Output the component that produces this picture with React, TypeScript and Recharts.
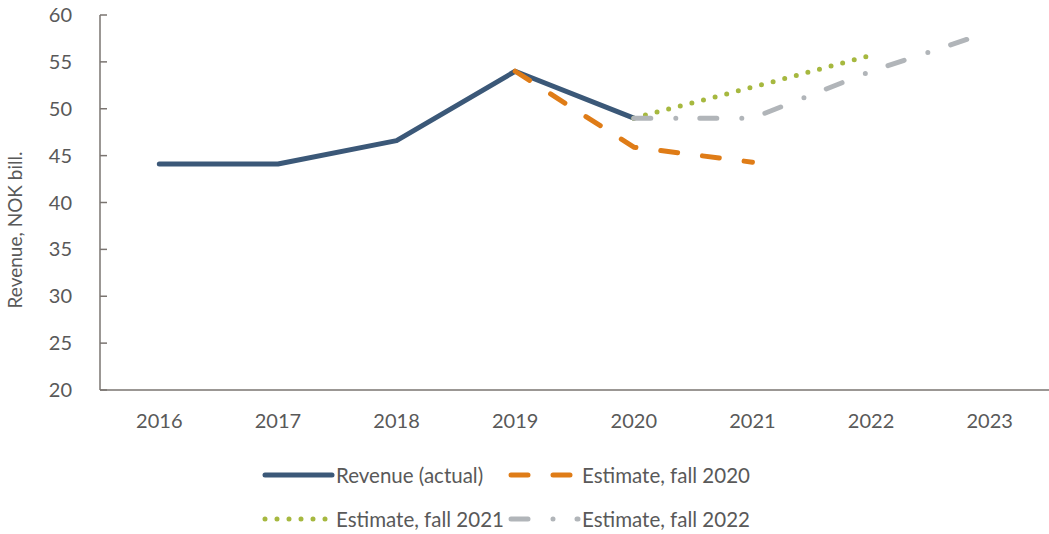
import { Legend, Line, LineChart, XAxis, YAxis } from "recharts";

const years = ["2016", "2017", "2018", "2019", "2020", "2021", "2022", "2023"];
const revenueActual = [44.1, 44.1, 46.6, 54, 49, null, null, null];
const estimateFall2020 = [null, null, null, 54, 45.9, 44.3, null, null];
const estimateFall2021 = [null, null, null, null, 49, 52.3, 55.7, null];
const estimateFall2022 = [null, null, null, null, 49, 49, 54, 58.2];
const yTicks = [20, 25, 30, 35, 40, 45, 50, 55, 60];

const data = years.map((year, i) => ({
  year,
  actual: revenueActual[i],
  fall2020: estimateFall2020[i],
  fall2021: estimateFall2021[i],
  fall2022: estimateFall2022[i],
}));

const series = [
  { key: "actual", name: "Revenue (actual)", color: "#3b5878", dash: undefined },
  { key: "fall2020", name: "Estimate, fall 2020", color: "#df7c17", dash: "17 25" },
  { key: "fall2021", name: "Estimate, fall 2021", color: "#a6b83f", dash: "0 12" },
  { key: "fall2022", name: "Estimate, fall 2022", color: "#b1b5b9", dash: "17 25 0 24" },
];

const font = "Lato, 'Open Sans', sans-serif";
const textColor = "#595959";
const axisColor = "#7a7470";

const CHART_W = 1049;
const CHART_H = 534;
const TOP = 15;
const LEGEND_H = 90;
const XAXIS_H = 54;

function YLabel() {
  const x = 14;
  const y = 230;
  return (
    <text
      x={x}
      y={y}
      transform={`rotate(-90 ${x} ${y})`}
      textAnchor="middle"
      dominantBaseline="central"
      fill={textColor}
      fontSize={19}
      fontFamily={font}
    >
      Revenue, NOK bill.
    </text>
  );
}

function LegendContent() {
  const rows = [
    [series[0], series[1]],
    [series[2], series[3]],
  ];
  return (
    <div style={{ height: LEGEND_H, paddingLeft: 262, paddingTop: 9, boxSizing: "border-box", fontFamily: font, fontSize: 20.5, color: textColor }}>
      {rows.map((row, r) => (
        <div key={r} style={{ display: "flex", height: 44, alignItems: "center" }}>
          {row.map((s) => (
            <div key={s.key} style={{ width: 246, display: "flex", alignItems: "center" }}>
              <svg width={74} height={10} style={{ display: "block" }}>
                <line
                  x1={3}
                  y1={5}
                  x2={70}
                  y2={5}
                  stroke={s.color}
                  strokeWidth={5}
                  strokeLinecap="round"
                  strokeDasharray={s.dash}
                />
              </svg>
              <span>{s.name}</span>
            </div>
          ))}
        </div>
      ))}
    </div>
  );
}

export default function App() {
  return (
    <div style={{ position: "absolute", left: 0, top: 0, width: CHART_W, height: CHART_H, background: "#fff" }}>
      <LineChart
        width={CHART_W}
        height={CHART_H}
        data={data}
        margin={{ top: TOP, right: 0, bottom: 0, left: 0 }}
        style={{ fontFamily: font }}
      >
        <XAxis
          dataKey="year"
          scale="band"
          height={XAXIS_H}
          axisLine={{ stroke: axisColor, strokeWidth: 1.5 }}
          tickLine={false}
          tickSize={0}
          tickMargin={24}
          tick={{ fill: textColor, fontSize: 20, fontFamily: font }}
        />
        <YAxis
          width={100}
          domain={[20, 60]}
          ticks={yTicks}
          interval={0}
          axisLine={{ stroke: axisColor, strokeWidth: 1.5 }}
          tickLine={{ stroke: axisColor, strokeWidth: 1.5 }}
          tickSize={-7}
          tickMargin={35}
          tick={{ fill: textColor, fontSize: 20, fontFamily: font }}
          label={<YLabel />}
        />
        <Legend verticalAlign="bottom" content={<LegendContent />} />
        {series.map((s) => (
          <Line
            key={s.key}
            dataKey={s.key}
            name={s.name}
            stroke={s.color}
            strokeWidth={5}
            strokeDasharray={s.dash}
            strokeLinecap="round"
            strokeLinejoin="round"
            dot={false}
            activeDot={false}
            isAnimationActive={false}
          />
        ))}
      </LineChart>
    </div>
  );
}
